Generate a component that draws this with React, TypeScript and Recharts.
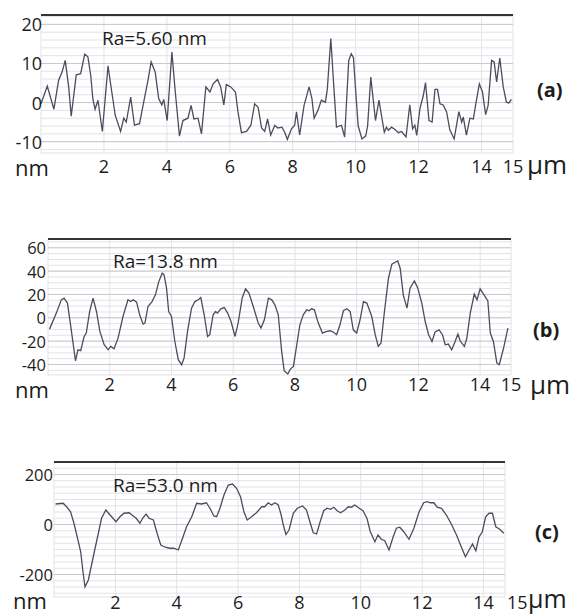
import React from "react";
import { LineChart, Line, XAxis, YAxis, CartesianGrid, ReferenceLine } from "recharts";

// profile (a): position in µm, height in nm
const posA = [0, 0.2, 0.41, 0.56, 0.67, 0.77, 0.88, 0.96, 1.12, 1.26, 1.39, 1.49, 1.58, 1.65, 1.72, 1.81, 1.95, 2.13, 2.25, 2.36, 2.53, 2.63, 2.71, 2.85, 2.97, 3.13, 3.29, 3.4, 3.5, 3.63, 3.74, 3.84, 3.9, 4.01, 4.16, 4.26, 4.4, 4.51, 4.67, 4.77, 4.86, 4.99, 5.1, 5.24, 5.37, 5.47, 5.61, 5.71, 5.81, 5.89, 6.03, 6.18, 6.26, 6.37, 6.53, 6.67, 6.79, 6.9, 7.01, 7.11, 7.2, 7.3, 7.43, 7.53, 7.66, 7.75, 7.83, 7.96, 8.06, 8.12, 8.22, 8.36, 8.52, 8.61, 8.68, 8.8, 8.91, 9.04, 9.1, 9.21, 9.31, 9.39, 9.55, 9.65, 9.78, 9.86, 9.93, 10.0, 10.08, 10.2, 10.32, 10.38, 10.48, 10.63, 10.74, 10.91, 10.98, 11.04, 11.14, 11.25, 11.36, 11.46, 11.6, 11.72, 11.81, 11.88, 11.94, 12.04, 12.15, 12.22, 12.33, 12.43, 12.52, 12.6, 12.68, 12.78, 12.89, 12.99, 13.13, 13.28, 13.37, 13.42, 13.52, 13.63, 13.74, 13.81, 13.93, 14.03, 14.13, 14.21, 14.32, 14.4, 14.48, 14.58, 14.69, 14.79, 14.87, 14.95];
const nmA = [-0.3, 4.2, -1.7, 5.7, 7.8, 10.8, 4, -3.5, 7.1, 7.4, 12.4, 11.7, 7, 0.8, -1.7, 0.6, -7.4, 9.4, 2.7, -3.3, -7.4, -4, -5, 1.4, -5.8, -5.4, 1.2, 5.7, 10.4, 7.8, 1, -0.6, 0.8, -4.6, 12.9, 3.4, -8.6, -4.6, -4, -0.7, -4.2, -4, -8, 4, 2.7, 4.8, 5.9, 4, -0.6, 4.6, 4, 2.7, -2.4, -7.7, -7.4, -5.8, -0.3, -1.2, -6.5, -7.4, -4.2, -8.3, -5.8, -6.5, -6.3, -7.7, -9.4, -6.7, -5.8, -2.4, -8.3, -0.7, 4, 1, -4, -2, 0.6, 0.1, 3.5, 16.4, 3.5, -6.3, -5.8, -8.8, 10.8, 12.5, 11.5, 3, -6, -9.3, -8.5, -6, 6.5, -4.6, 0.6, -7.6, -6.3, -7.1, -6.3, -6.9, -7.7, -7.4, -8.8, -0.6, -6.7, -5.8, -8.4, -1.6, 1.8, 5.1, -4.6, -5, 3.4, 3.4, -0.3, -0.6, -2.4, -6.9, -9.3, -2.3, -5, -3.7, -8.3, -4, -4.2, -0.7, 4.8, 2.7, -3.1, -0.7, 10.8, 10.4, 5.3, 11.4, 4, 0.1, -0.1, 0.8];

// profile (b)
const posB = [0.05, 0.27, 0.43, 0.52, 0.63, 0.76, 0.89, 0.97, 1.06, 1.17, 1.24, 1.35, 1.46, 1.57, 1.68, 1.82, 1.95, 2.03, 2.14, 2.27, 2.43, 2.59, 2.68, 2.76, 2.87, 2.97, 3.08, 3.14, 3.24, 3.37, 3.48, 3.59, 3.7, 3.76, 3.84, 3.91, 4.0, 4.11, 4.22, 4.33, 4.41, 4.52, 4.65, 4.76, 4.87, 4.95, 5.06, 5.17, 5.24, 5.35, 5.43, 5.49, 5.6, 5.71, 5.82, 5.93, 6.06, 6.16, 6.29, 6.4, 6.51, 6.65, 6.81, 6.9, 7.01, 7.14, 7.25, 7.35, 7.46, 7.57, 7.65, 7.77, 7.84, 7.95, 8.06, 8.16, 8.27, 8.38, 8.46, 8.54, 8.63, 8.74, 8.89, 9.03, 9.14, 9.24, 9.35, 9.46, 9.57, 9.68, 9.79, 9.89, 10.0, 10.11, 10.22, 10.33, 10.49, 10.6, 10.7, 10.79, 10.9, 11.03, 11.14, 11.25, 11.33, 11.41, 11.51, 11.63, 11.73, 11.87, 11.98, 12.11, 12.22, 12.33, 12.44, 12.54, 12.67, 12.78, 12.87, 12.97, 13.08, 13.19, 13.28, 13.35, 13.49, 13.57, 13.68, 13.81, 13.9, 14.0, 14.11, 14.25, 14.33, 14.43, 14.54, 14.62, 14.76, 14.9];
const nmB = [-9.7, 4, 15.4, 16.8, 12.6, -11.7, -36.8, -27.4, -28.2, -16, -13.1, 5.4, 16.8, 5.4, -11.7, -23.1, -27.4, -24.5, -26.5, -17.4, 1.1, 15.4, 13.9, 15.4, 13.4, 2.6, -5.4, -4.5, 9.7, 13.9, 19.7, 31, 38.2, 36.8, 25.4, 5.4, 1.1, -20.3, -35.9, -40.2, -34.4, -11.7, 8.3, 13.9, 15.4, 17.4, 2.6, -16, -14.5, 2.6, 5.4, 4, 7.7, 8.8, 4, -3.2, -16, -4.5, 16.8, 24.8, 21.1, 9.7, -4.5, -8.8, -1.7, 16.8, 15.4, 11.1, 2.6, -28.8, -45.3, -48.1, -44.4, -41.6, -23.1, -6, 2.6, 6.8, 6, 7.7, 6.8, -3.2, -13.1, -11.7, -11.1, -12.2, -14.5, -6, 6, 7.7, 5.4, -10.3, -13.1, -1.7, 13.9, 12.6, 1.1, -14.5, -24.5, -21.6, 5.4, 33.9, 45.9, 47.6, 48.7, 42.5, 19.7, 8.3, 25.4, 31.6, 25.4, 12.6, -3.2, -14.5, -20.3, -12.2, -10.3, -14.5, -23.1, -22.5, -27.4, -20.3, -13.9, -19.7, -24.5, -17.4, 4, 20.3, 15.4, 24.8, 20.3, 14.5, -13.1, -20.3, -38.7, -40.2, -25.9, -8.8];

// profile (c)
const posC = [0.05, 0.3, 0.41, 0.54, 0.65, 0.76, 0.87, 0.95, 1.01, 1.12, 1.28, 1.41, 1.55, 1.69, 1.8, 2.02, 2.15, 2.28, 2.45, 2.58, 2.68, 2.8, 2.89, 3.0, 3.1, 3.24, 3.36, 3.48, 3.62, 3.78, 3.91, 4.05, 4.19, 4.32, 4.49, 4.65, 4.81, 4.97, 5.1, 5.21, 5.3, 5.41, 5.54, 5.68, 5.82, 5.95, 6.08, 6.19, 6.3, 6.44, 6.6, 6.77, 6.87, 6.98, 7.09, 7.2, 7.31, 7.4, 7.48, 7.56, 7.66, 7.8, 7.93, 8.1, 8.23, 8.34, 8.45, 8.56, 8.66, 8.79, 8.9, 9.01, 9.12, 9.23, 9.34, 9.48, 9.59, 9.7, 9.8, 9.95, 10.07, 10.2, 10.31, 10.46, 10.56, 10.67, 10.78, 10.92, 11.05, 11.16, 11.27, 11.4, 11.57, 11.73, 11.9, 12.05, 12.16, 12.27, 12.38, 12.49, 12.63, 12.79, 12.95, 13.12, 13.28, 13.41, 13.53, 13.64, 13.75, 13.85, 13.96, 14.07, 14.18, 14.29, 14.4, 14.53, 14.66];
const nmC = [82, 85, 71, 51, 5, -51, -109, -195, -249, -222, -129, -55, 25, 58, 42, 11, 31, 45, 47, 34, 25, 5, 25, 42, 25, 18, -35, -82, -91, -95, -95, -102, -55, -9, 31, 85, 82, 87, 61, 34, 31, 65, 118, 158, 162, 145, 111, 51, 18, 31, 47, 71, 71, 87, 78, 87, 78, 40, -5, -40, -22, 45, 65, 74, 58, 11, -33, -38, 5, 55, 65, 61, 69, 55, 47, 58, 71, 69, 78, 65, 55, 25, -29, -69, -42, -59, -65, -102, -51, -15, -11, -29, -59, -15, 51, 87, 91, 87, 87, 69, 65, 38, 2, -42, -91, -129, -102, -78, -105, -51, -29, 31, 45, 45, -9, -19, -35];

const xTicks = [2, 4, 6, 8, 10, 12, 14, 15];
const xTicksC = [2, 4, 6, 8, 10, 12, 14];
const yTicksA = [-12, -10, -8, -6, -4, -2, 0, 2, 4, 6, 8, 10, 12, 14, 16, 18, 20, 22];
const yLabelsA = [-10, 0, 10, 20];
const yTicksB = [-45, -40, -35, -30, -25, -20, -15, -10, -5, 0, 5, 10, 15, 20, 25, 30, 35, 40, 45, 50, 55, 60, 65];
const yLabelsB = [-40, -20, 0, 20, 40, 60];
const yTicksC = [-275, -250, -225, -200, -175, -150, -125, -100, -75, -50, -25, 0, 25, 50, 75, 100, 125, 150, 175, 200, 225];
const yLabelsC = [-200, 0, 200];

const W = 571;
const FONT = "'Open Sans', 'DejaVu Sans', sans-serif";
const INK = "#1c1c1c";

type PanelProps = {
  pos: number[];
  vals: number[];
  top: number;
  height: number;
  left: number;
  right: number;
  plotTop: number;
  plotBottom: number;
  xMax: number;
  ticksX: number[];
  yDomain: [number, number];
  ticksY: number[];
  labelsY: number[];
  yLabelRight: number;
  yFont: number;
  xLabelY: number;
};

function Panel(p: PanelProps) {
  const data = p.pos.map((x, i) => ({ x, y: p.vals[i] }));
  const xAxisH = p.top + p.height - p.plotBottom;

  const yTick = (props: any) => {
    const v = props.payload.value;
    if (!p.labelsY.includes(v)) return <g />;
    return (
      <text x={p.yLabelRight} y={props.y} textAnchor="end" dominantBaseline="central" fontSize={p.yFont} fill={INK} fontFamily={FONT}>
        {v}
      </text>
    );
  };
  const xTick = (props: any) => (
    <text x={props.x} y={p.xLabelY - p.top} textAnchor="middle" dominantBaseline="central" fontSize={18} fill={INK} fontFamily={FONT}>
      {props.payload.value}
    </text>
  );

  return (
    <div style={{ position: "absolute", left: 0, top: p.top, width: W, height: p.height }}>
      <LineChart width={W} height={p.height} data={data} margin={{ top: p.plotTop - p.top, right: W - p.right, bottom: 0, left: 0 }}>
        <CartesianGrid stroke="#e3e3e8" strokeWidth={1} />
        <XAxis type="number" dataKey="x" domain={[0, p.xMax]} ticks={p.ticksX} interval={0} height={xAxisH} axisLine={false} tickLine={false} tick={xTick} />
        <YAxis type="number" domain={p.yDomain} ticks={p.ticksY} interval={0} width={p.left} axisLine={false} tickLine={false} tick={yTick} allowDataOverflow />
        {p.labelsY.map((v) => (
          <ReferenceLine key={v} y={v} stroke="#c8c8ce" strokeWidth={1} />
        ))}
        <ReferenceLine y={p.yDomain[1]} stroke="#333" strokeWidth={2.2} />
        <Line type="linear" dataKey="y" stroke="#4c4c60" strokeWidth={1.3} dot={false} isAnimationActive={false} />
      </LineChart>
    </div>
  );
}

function Txt({ x, y, size, bold, children }: { x: number; y: number; size: number; bold?: boolean; children: React.ReactNode }) {
  return (
    <div style={{ position: "absolute", left: x, top: y, transform: "translateY(-50%)", fontSize: size, lineHeight: 1, fontWeight: bold ? 700 : 400, color: INK, whiteSpace: "nowrap", fontFamily: FONT }}>
      {children}
    </div>
  );
}

export default function App() {
  return (
    <div style={{ position: "absolute", left: 0, top: 0, width: W, height: 614, background: "#fff", overflow: "hidden", fontFamily: FONT }}>
      <Panel pos={posA} vals={nmA} top={0} height={188} left={41} right={513} plotTop={15} plotBottom={153} xMax={15} ticksX={xTicks}
        yDomain={[-12.9, 22.4]} ticksY={yTicksA} labelsY={yLabelsA} yLabelRight={42} yFont={18} xLabelY={166} />
      <Panel pos={posB} vals={nmB} top={220} height={182} left={48} right={511} plotTop={239} plotBottom={375} xMax={15} ticksX={xTicks}
        yDomain={[-49, 67.5]} ticksY={yTicksB} labelsY={yLabelsB} yLabelRight={46} yFont={16.5} xLabelY={384} />
      <Panel pos={posC} vals={nmC} top={445} height={169} left={54} right={505} plotTop={462} plotBottom={597} xMax={14.7} ticksX={xTicksC}
        yDomain={[-290, 250]} ticksY={yTicksC} labelsY={yLabelsC} yLabelRight={53} yFont={16.5} xLabelY={602} />

      <Txt x={102} y={38} size={19}>Ra=5.60 nm</Txt>
      <Txt x={113} y={261} size={19}>Ra=13.8 nm</Txt>
      <Txt x={113} y={485} size={19}>Ra=53.0 nm</Txt>

      <Txt x={15} y={167} size={22}>nm</Txt>
      <Txt x={15} y={389} size={22}>nm</Txt>
      <Txt x={13} y={600} size={22}>nm</Txt>

      <Txt x={527} y={164} size={26}>µm</Txt>
      <Txt x={530} y={384} size={26}>µm</Txt>
      <Txt x={507} y={602} size={18}>15</Txt>
      <Txt x={528} y={598} size={25}>µm</Txt>

      <Txt x={537} y={90} size={20} bold>(a)</Txt>
      <Txt x={533} y={330} size={20} bold>(b)</Txt>
      <Txt x={535} y={532} size={20} bold>(c)</Txt>
    </div>
  );
}
